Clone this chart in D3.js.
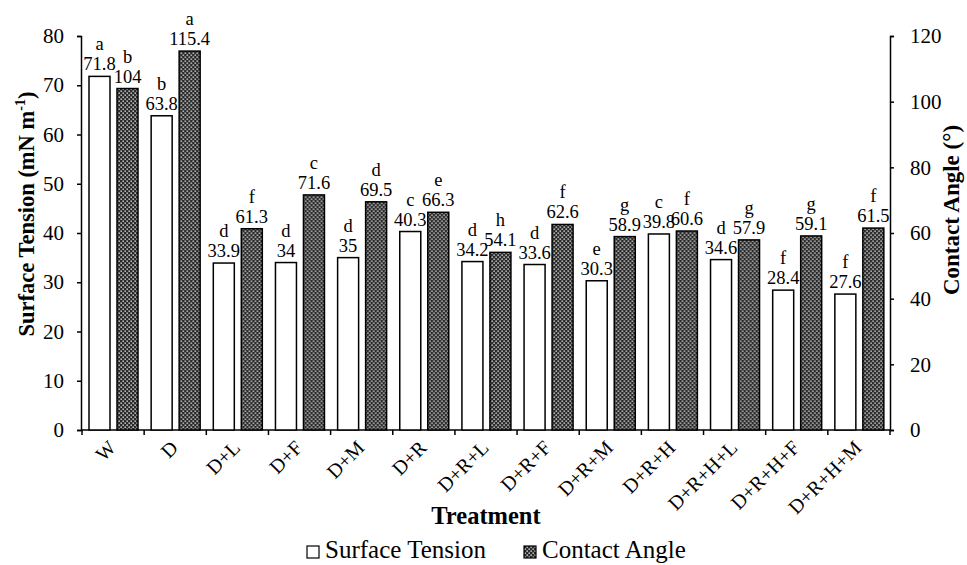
<!DOCTYPE html>
<html>
<head>
<meta charset="utf-8">
<script src="https://cdn.jsdelivr.net/npm/d3@7"></script>
<style>
  body { margin: 0; background: #fff; }
</style>
</head>
<body>
<svg id="chart"></svg>
<script>
const categories = ["W", "D", "D+L", "D+F", "D+M", "D+R", "D+R+L", "D+R+F", "D+R+M", "D+R+H", "D+R+H+L", "D+R+H+F", "D+R+H+M"];
const surfaceTension = [71.8, 63.8, 33.9, 34, 35, 40.3, 34.2, 33.6, 30.3, 39.8, 34.6, 28.4, 27.6];
const surfaceLetters = ["a", "b", "d", "d", "d", "c", "d", "d", "e", "c", "d", "f", "f"];
const contactAngle = [104, 115.4, 61.3, 71.6, 69.5, 66.3, 54.1, 62.6, 58.9, 60.6, 57.9, 59.1, 61.5];
const contactLetters = ["b", "a", "f", "c", "d", "e", "h", "f", "g", "f", "g", "g", "f"];
const leftTicks = [0, 10, 20, 30, 40, 50, 60, 70, 80];
const rightTicks = [0, 20, 40, 60, 80, 100, 120];

const width = 967, height = 565;
const svg = d3.select("#chart").attr("width", width).attr("height", height);

// hatch pattern for contact angle bars
const defs = svg.append("defs");
const pat = defs.append("pattern")
    .attr("id", "hatch")
    .attr("width", 4).attr("height", 4)
    .attr("patternUnits", "userSpaceOnUse");
pat.append("rect").attr("width", 4).attr("height", 4).attr("fill", "#2a2a2a");
pat.append("rect").attr("x", 0.5).attr("y", 0.5).attr("width", 1.3).attr("height", 1.3).attr("fill", "#fff");
pat.append("rect").attr("x", 2.5).attr("y", 2.5).attr("width", 1.3).attr("height", 1.3).attr("fill", "#fff");

const plotLeft = 82, plotRight = 890, plotTop = 36, plotBottom = 430;

const x = d3.scaleBand().domain(categories).range([plotLeft, plotRight]).padding(0);
const x1 = d3.scaleBand().domain(["st", "ca"]).range([7, 56]).paddingInner(0.25).paddingOuter(0);
const yL = d3.scaleLinear().domain([0, 80]).range([plotBottom, plotTop]);
const yR = d3.scaleLinear().domain([0, 120]).range([plotBottom, plotTop]);

// axes
const gL = svg.append("g")
    .attr("transform", `translate(${plotLeft - 1},0)`)
    .call(d3.axisLeft(yL).tickValues(leftTicks).tickSize(4).tickPadding(13).tickSizeOuter(4));
const gR = svg.append("g")
    .attr("transform", `translate(${plotRight},0)`)
    .call(d3.axisRight(yR).tickValues(rightTicks).tickSize(4).tickPadding(16).tickSizeOuter(4));
[gL, gR].forEach(g => {
    g.attr("font-family", null).attr("font-size", null);
    g.selectAll("text").attr("font-size", 21);
    g.selectAll("line, path").attr("stroke", "#000").attr("stroke-width", 1.5);
});

// bottom axis with ticks at band boundaries
const gB = svg.append("g");
gB.append("line")
    .attr("x1", plotLeft - 1).attr("x2", plotRight).attr("y1", plotBottom).attr("y2", plotBottom)
    .attr("stroke", "#000").attr("stroke-width", 1.5);
const bounds = categories.map(c => x(c)).concat([plotRight]);
gB.selectAll(".tk").data(bounds).enter().append("line")
    .attr("x1", d => d).attr("x2", d => d)
    .attr("y1", plotBottom).attr("y2", plotBottom + 5)
    .attr("stroke", "#000").attr("stroke-width", 1.5);
gB.selectAll(".cat").data(categories).enter().append("text")
    .attr("transform", d => `translate(${x(d) + x.bandwidth() / 2 + 4},${plotBottom + 19}) rotate(-45)`)
    .attr("text-anchor", "end")
    .attr("font-size", 20)
    .text(d => d);

// bars
const rows = categories.map((c, i) => ({ c, st: surfaceTension[i], ca: contactAngle[i], sl: surfaceLetters[i], cl: contactLetters[i] }));
const groups = svg.append("g").selectAll("g").data(rows).enter().append("g")
    .attr("transform", d => `translate(${x(d.c)},0)`);

groups.append("rect")
    .attr("x", x1("st")).attr("width", x1.bandwidth())
    .attr("y", d => yL(d.st)).attr("height", d => plotBottom - yL(d.st))
    .attr("fill", "#fff").attr("stroke", "#000").attr("stroke-width", 1.5);
groups.append("rect")
    .attr("x", x1("ca")).attr("width", x1.bandwidth())
    .attr("y", d => yR(d.ca)).attr("height", d => plotBottom - yR(d.ca))
    .attr("fill", "url(#hatch)").attr("stroke", "#000").attr("stroke-width", 1.5);

// value labels + letters
function labels(key, letterKey, scale, sub) {
    groups.append("text")
        .attr("x", x1(sub) + x1.bandwidth() / 2)
        .attr("y", d => scale(d[key]) - 6)
        .attr("text-anchor", "middle").attr("font-size", 18.5)
        .text(d => d[key]);
    groups.append("text")
        .attr("x", x1(sub) + x1.bandwidth() / 2)
        .attr("y", d => scale(d[key]) - 26)
        .attr("text-anchor", "middle").attr("font-size", 18.5)
        .text(d => d[letterKey]);
}
labels("st", "sl", yL, "st");
labels("ca", "cl", yR, "ca");

// axis titles
const tl = svg.append("text")
    .attr("transform", `translate(34,214) rotate(-90)`)
    .attr("text-anchor", "middle").attr("font-size", 22.5).attr("font-weight", "bold");
tl.append("tspan").text("Surface Tension (mN m");
tl.append("tspan").attr("dy", -9).attr("font-size", 14).text("-1");
tl.append("tspan").attr("dy", 9).text(")");

svg.append("text")
    .attr("transform", `translate(959,210) rotate(-90)`)
    .attr("text-anchor", "middle").attr("font-size", 23).attr("font-weight", "bold")
    .text("Contact Angle (°)");

svg.append("text")
    .attr("x", 486).attr("y", 524)
    .attr("text-anchor", "middle").attr("font-size", 24.5).attr("font-weight", "bold")
    .text("Treatment");

// legend
const legend = [
    { label: "Surface Tension", fill: "#fff", x: 307 },
    { label: "Contact Angle", fill: "url(#hatch)", x: 524 }
];
const lg = svg.append("g").selectAll("g").data(legend).enter().append("g");
lg.append("rect")
    .attr("x", d => d.x).attr("y", 546).attr("width", 12).attr("height", 12)
    .attr("fill", d => d.fill).attr("stroke", "#000").attr("stroke-width", 1.2);
lg.append("text")
    .attr("x", d => d.x + 18).attr("y", 558)
    .attr("font-size", 25)
    .text(d => d.label);

svg.selectAll("text").attr("font-family", "Liberation Serif").attr("fill", "#000");
</script>
</body>
</html>
